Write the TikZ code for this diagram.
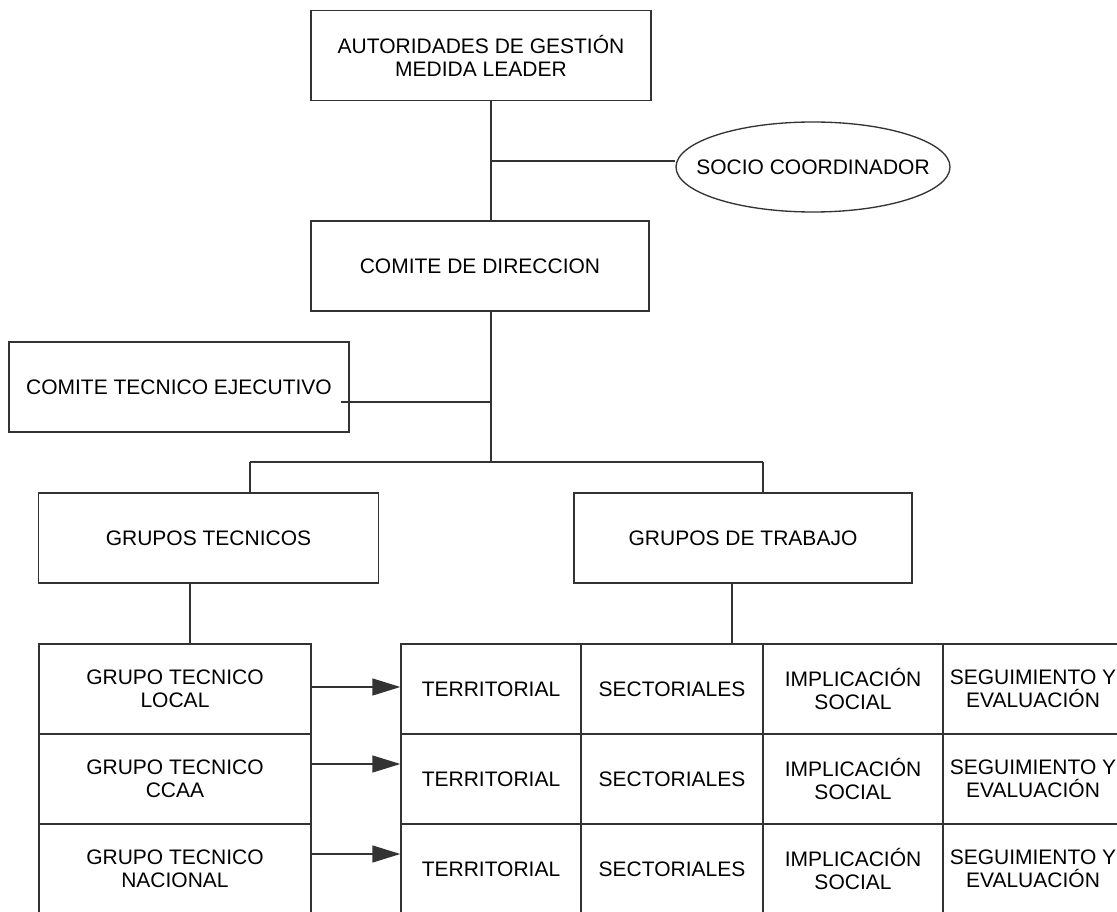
\documentclass[tikz,border=0pt]{standalone}
\usepackage{fontspec}
\setmainfont{Liberation Sans}
\usetikzlibrary{arrows.meta,shapes.geometric}
\begin{document}
\begin{tikzpicture}[x=0.75pt,y=-0.75pt,
  ln/.style={draw=black!80,line width=1pt},
  box/.style={ln,rectangle,inner sep=0pt,align=center,text=black,
    font=\fontsize{15.75}{17.25}\selectfont},
  oval/.style={ln,ellipse,inner xsep=-15pt,inner ysep=0pt,align=center,text=black,
    font=\fontsize{15.75}{17.25}\selectfont,minimum width=205.5pt,minimum height=67.5pt},
  wbig/.style={minimum width=255pt,minimum height=67.5pt},
  lcell/.style={minimum width=204pt,minimum height=67.5pt},
  tcell/.style={minimum width=135pt,minimum height=67.5pt},
  tcellw/.style={minimum width=136.5pt,minimum height=67.5pt},
  arr/.style={ln,-{Triangle[length=21pt,width=12.75pt]}}]
\useasboundingbox (0,0) rectangle (1117,912);
\clip (0,0) rectangle (1117,912);
\fill[white] (0,0) rectangle (1117,912);

% upper part
\node[box,wbig] (aut) at (481,55.5) {AUTORIDADES DE GESTIÓN\\MEDIDA LEADER};
\node[oval] (socio) at (813,167) {SOCIO COORDINADOR};
\node[box,wbig,minimum width=253.5pt] (cd) at (480,266) {COMITE DE DIRECCION};
\node[box,wbig] (cte) at (179,387) {COMITE TECNICO EJECUTIVO};
\node[box,wbig] (gt) at (208.5,538) {GRUPOS TECNICOS};
\node[box,wbig,minimum width=253.5pt] (gw) at (743,538) {GRUPOS DE TRABAJO};

\coordinate (j1) at (491,161);
\coordinate (j2) at (491,402);
\coordinate (j3) at (491,462);
\coordinate (bl) at (250,462);
\coordinate (br) at (763,462);
\coordinate (cl) at (190,600);
\coordinate (cr) at (732,600);

\draw[ln] (aut.south -| j1) -- (cd.north -| j1);
\draw[ln] (j1) -- (j1 -| socio.west);
\draw[ln] (cd.south -| j3) -- (j3);
\draw[ln] (j2) -- ([xshift=-6.75pt]cte.east |- j2);
\draw[ln] (bl) -- (br);
\draw[ln] (bl) -- (bl |- gt.north);
\draw[ln] (br) -- (br |- gw.north);

% left column
\node[box,lcell] (l1) at (175,689) {GRUPO TECNICO\\LOCAL};
\node[box,lcell] (l2) at (175,779) {GRUPO TECNICO\\CCAA};
\node[box,lcell] (l3) at (175,869) {GRUPO TECNICO\\NACIONAL};

% table
\foreach \r/\y in {1/689,2/779,3/869}{
  \node[box,tcell] (t\r1) at (491,\y) {TERRITORIAL};
  \node[box,tcellw] (t\r2) at (672,\y) {SECTORIALES};
  \node[box,tcell] (t\r3) at (853,\y) {IMPLICACIÓN\\SOCIAL};
  \node[box,tcell] (t\r4) at (1033,\y) {SEGUIMIENTO Y\\EVALUACIÓN};
}

\draw[ln] (gt.south -| cl) -- (cl |- l1.north);
\draw[ln] (gw.south -| cr) -- (cr |- t12.north);

\draw[arr] ([yshift=1.5pt]l1.east) -- ([yshift=1.5pt]t11.west);
\draw[arr] ([yshift=11.25pt]l2.east) -- ([yshift=11.25pt]t21.west);
\draw[arr] ([yshift=11.25pt]l3.east) -- ([yshift=11.25pt]t31.west);
\end{tikzpicture}
\end{document}
